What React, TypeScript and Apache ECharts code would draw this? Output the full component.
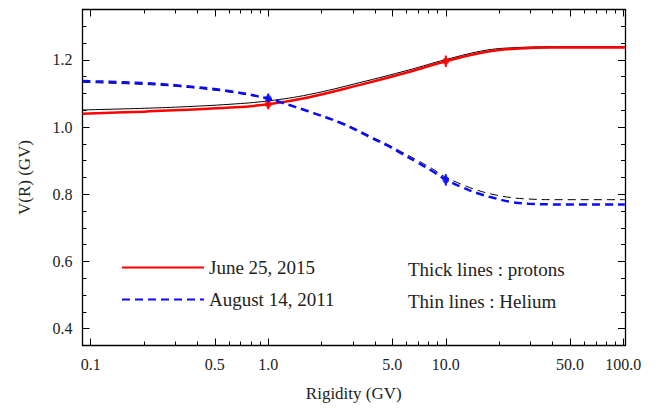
import React, { useEffect, useRef } from "react";
import * as echarts from "echarts";

// ---- Data ----
const xTickValues = [0.1, 0.5, 1, 5, 10, 50, 100];
const xTickLabels = ["0.1", "0.5", "1.0", "5.0", "10.0", "50.0", "100.0"];
const xMinorTicks = [0.2, 0.3, 0.4, 0.6, 0.7, 0.8, 0.9, 2, 3, 4, 6, 7, 8, 9, 20, 30, 40, 60, 70, 80, 90];
const yTickValues = [0.4, 0.6, 0.8, 1.0, 1.2];
const yMinorTicks = [0.45, 0.5, 0.55, 0.65, 0.7, 0.75, 0.85, 0.9, 0.95, 1.05, 1.1, 1.15, 1.25, 1.3];

const xMin = 0.0899;
const xMax = 102.2;
const yMin = 0.35;
const yMax = 1.35;

// June 25, 2015
const rigidity2015 = [0.09, 0.2, 0.32, 0.61, 1, 1.7, 3.25, 6.2, 10, 17, 26, 40, 102];
const protons2015 = [1.040, 1.046, 1.051, 1.058, 1.068, 1.089, 1.125, 1.164, 1.196, 1.224, 1.234, 1.237, 1.237];
const helium2015 = [1.051, 1.056, 1.060, 1.068, 1.078, 1.097, 1.132, 1.170, 1.201, 1.229, 1.237, 1.239, 1.239];

// August 14, 2011
const rigidity2011 = [0.09, 0.2, 0.32, 0.61, 1, 1.19, 1.68, 2.54, 3.16, 3.83, 4.65, 5.65, 6.87, 8.34, 10, 12.5, 15.1, 18.7, 23.5, 29.2, 40, 102];
const protons2011 = [1.137, 1.131, 1.123, 1.107, 1.085, 1.073, 1.047, 1.013, 0.990, 0.967, 0.946, 0.921, 0.896, 0.870, 0.844, 0.820, 0.803, 0.789, 0.777, 0.772, 0.770, 0.770];
const helium2011 = [1.133, 1.127, 1.120, 1.104, 1.084, 1.073, 1.048, 1.015, 0.993, 0.971, 0.950, 0.926, 0.902, 0.877, 0.851, 0.828, 0.812, 0.799, 0.790, 0.786, 0.784, 0.784];

// Data points with error bars (rigidity, value, error)
const pointsR = [1, 10];
const points2015 = [1.068, 1.196];
const points2011 = [1.085, 0.843];
const pointErr = [0.015, 0.017];

const legendNames = ["June 25, 2015", "August 14, 2011"];
const noteTexts = ["Thick lines : protons", "Thin lines : Helium"];

const FONT = "Liberation Serif";
const RED = "#ff0000";
const BLUE = "#0a0aff";
const TEXT = "#222";

const lg = (v: number) => Math.log10(v);

function App() {
  const ref = useRef<HTMLDivElement>(null);
  useEffect(() => {
    if (!ref.current) return;
    const chart = echarts.init(ref.current, null, { renderer: "svg" });

    const xFmt = (v: number) => {
      const i = xTickValues.findIndex((t) => Math.abs(lg(t) - v) < 1e-6);
      return i >= 0 ? xTickLabels[i] : "";
    };

    const mkX = (gridIndex: number, position: string, major: boolean, labels: boolean) => ({
      type: "value",
      gridIndex,
      position,
      min: lg(xMin),
      max: lg(xMax),
      axisLine: { show: major, onZero: false, lineStyle: { color: "#000", width: 1.3 } },
      axisTick: {
        show: true,
        inside: true,
        length: major ? 7 : 4,
        customValues: (major ? xTickValues : xMinorTicks).map(lg),
        lineStyle: { color: "#000", width: 1 },
      },
      axisLabel: {
        show: labels,
        customValues: xTickValues.map(lg),
        formatter: xFmt,
        margin: 11,
        fontSize: 16,
        fontFamily: FONT,
        color: TEXT,
      },
      splitLine: { show: false },
      name: labels ? "Rigidity (GV)" : "",
      nameLocation: "middle",
      nameGap: 39,
      nameTextStyle: { fontSize: 17, fontFamily: FONT, color: TEXT },
    });

    const mkY = (gridIndex: number, position: string, major: boolean, labels: boolean) => ({
      type: "value",
      gridIndex,
      position,
      min: yMin,
      max: yMax,
      axisLine: { show: major, onZero: false, lineStyle: { color: "#000", width: 1.3 } },
      axisTick: {
        show: true,
        inside: true,
        length: major ? 7 : 4,
        customValues: major ? yTickValues : yMinorTicks,
        lineStyle: { color: "#000", width: 1 },
      },
      axisLabel: {
        show: labels,
        customValues: yTickValues,
        formatter: (v: number) => v.toFixed(1),
        margin: 10,
        fontSize: 16,
        fontFamily: FONT,
        color: TEXT,
      },
      splitLine: { show: false },
      name: labels ? "V(R) (GV)" : "",
      nameLocation: "middle",
      nameGap: 50,
      nameTextStyle: { fontSize: 17, fontFamily: FONT, color: TEXT },
    });

    const gridPos = { left: 82.5, right: 35, top: 9.5, bottom: 68.5, containLabel: false };

    const errSeries = (name: string, vals: number[], color: string) => ({
      type: "custom",
      name,
      xAxisIndex: 0,
      yAxisIndex: 0,
      z: 6,
      data: pointsR.map((r, i) => [lg(r), vals[i] - pointErr[i], vals[i] + pointErr[i]]),
      encode: { x: 0, y: [1, 2] },
      renderItem: (params: any, api: any) => {
        const p1 = api.coord([api.value(0), api.value(1)]);
        const p2 = api.coord([api.value(0), api.value(2)]);
        return {
          type: "line",
          shape: { x1: p1[0], y1: p1[1], x2: p2[0], y2: p2[1] },
          style: { stroke: color, lineWidth: 2 },
        };
      },
    });

    const lineBase = {
      type: "line",
      xAxisIndex: 0,
      yAxisIndex: 0,
      smooth: 0.4,
      symbol: "none",
    };

    const option: any = {
      animation: false,
      backgroundColor: "#fff",
      textStyle: { fontFamily: FONT },
      grid: [gridPos, gridPos],
      xAxis: [
        mkX(0, "bottom", true, true),
        mkX(0, "top", true, false),
        mkX(1, "bottom", false, false),
        mkX(1, "top", false, false),
      ],
      yAxis: [
        mkY(0, "left", true, true),
        mkY(0, "right", true, false),
        mkY(1, "left", false, false),
        mkY(1, "right", false, false),
      ],
      legend: {
        data: legendNames,
        orient: "vertical",
        left: 121,
        top: 258,
        padding: 0,
        itemWidth: 82,
        itemHeight: 14,
        itemGap: 13,
        itemStyle: { opacity: 0 },
        textStyle: { fontSize: 19, fontFamily: FONT, color: TEXT },
        selectedMode: false,
      },
      graphic: noteTexts.map((t, i) => ({
        type: "text",
        left: 408,
        top: i === 0 ? 260 : 292,
        style: { text: t, fontSize: 19, fontFamily: FONT, fill: TEXT },
      })),
      series: [
        {
          ...lineBase,
          name: "Helium June 25, 2015",
          data: rigidity2015.map((r, i) => [lg(r), helium2015[i]]),
          lineStyle: { color: "#000", width: 1 },
          z: 2,
        },
        {
          ...lineBase,
          name: "Helium August 14, 2011",
          data: rigidity2011.map((r, i) => [lg(r), helium2011[i]]),
          lineStyle: { color: "#000", width: 1, type: [8, 5] },
          z: 2,
        },
        {
          ...lineBase,
          name: legendNames[0],
          data: rigidity2015.map((r, i) => [lg(r), protons2015[i]]),
          color: RED,
          lineStyle: { color: RED, width: 2.5 },
          z: 3,
        },
        {
          ...lineBase,
          name: legendNames[1],
          data: rigidity2011.map((r, i) => [lg(r), protons2011[i]]),
          color: BLUE,
          lineStyle: { color: BLUE, width: 2.5, type: [8, 5] },
          z: 4,
        },
        {
          type: "scatter",
          name: "pts2015",
          xAxisIndex: 0,
          yAxisIndex: 0,
          data: pointsR.map((r, i) => [lg(r), points2015[i]]),
          symbol: "circle",
          symbolSize: 7,
          itemStyle: { color: RED },
          z: 6,
        },
        {
          type: "scatter",
          name: "pts2011",
          xAxisIndex: 0,
          yAxisIndex: 0,
          data: pointsR.map((r, i) => [lg(r), points2011[i]]),
          symbol: "circle",
          symbolSize: 7,
          itemStyle: { color: BLUE },
          z: 6,
        },
        errSeries("err2015", points2015, RED),
        errSeries("err2011", points2011, BLUE),
      ],
    };

    chart.setOption(option);
    return () => chart.dispose();
  }, []);

  return (
    <div
      ref={ref}
      style={{ position: "absolute", left: 0, top: 0, width: 660, height: 414, background: "#fff" }}
    />
  );
}

export default App;
